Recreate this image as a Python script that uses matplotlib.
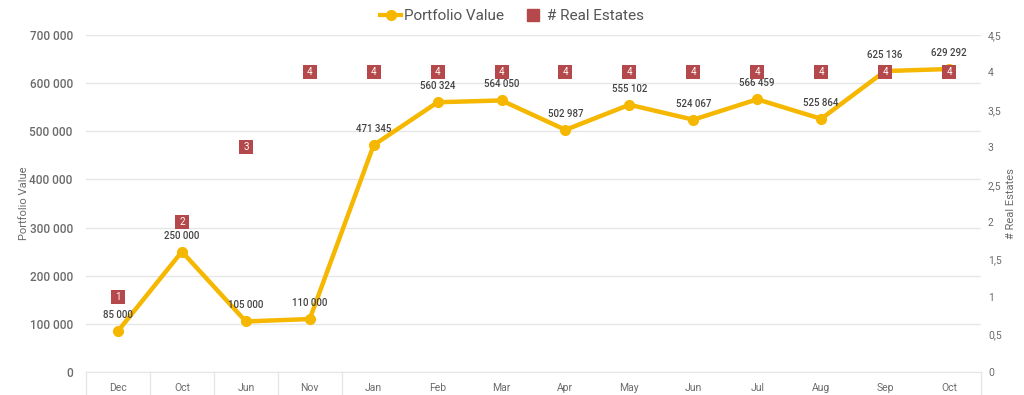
import matplotlib
matplotlib.use("Agg")
import matplotlib.pyplot as plt
from matplotlib.lines import Line2D

months = ["Dec", "Oct", "Jun", "Nov", "Jan", "Feb", "Mar", "Apr", "May", "Jun", "Jul", "Aug", "Sep", "Oct"]
portfolio_value = [85000, 250000, 105000, 110000, 471345, 560324, 564050, 502987,
                   555102, 524067, 566459, 525864, 625136, 629292]
real_estates = [1, 2, 3, 4, 4, 4, 4, 4, 4, 4, 4, 4, 4, 4]
group_bounds = [-0.5, 0.5, 1.5, 2.5, 3.5, 13.5]

plt.rcParams['font.family'] = ['Roboto', 'DejaVu Sans']

LINE = "#F5B700"
RED = "#B5484A"
GRID = "#E6E6E6"
TXT = "#6B6B6B"

fig = plt.figure(figsize=(10.24, 3.95), dpi=100)
ax = fig.add_axes([86/1024, 1-372/395, (981-86)/1024, (372-35)/395])
ax2 = ax.twinx()

x = list(range(len(months)))
ax.plot(x, portfolio_value, color=LINE, lw=3.2, marker='o', ms=7, zorder=3,
        solid_capstyle='round')
for xi, v in zip(x, portfolio_value):
    ax.annotate(f"{v:,}".replace(",", " "), (xi, v), xytext=(0, 8), textcoords='offset points',
                ha='center', va='bottom', fontsize=7, color="#444444", fontweight='medium')

ax.set_xlim(-0.5, 13.5)
ax.set_ylim(0, 700000)
ax.set_yticks(range(0, 700001, 100000))
ax.set_yticklabels([f"{v:,}".replace(",", " ") for v in range(0, 700001, 100000)])
ax.grid(axis='y', color=GRID, lw=1)
ax.set_axisbelow(True)
ax.set_xticks(x)
ax.set_xticklabels(months)
ax.tick_params(axis='x', length=0, pad=8, labelsize=7.5, labelcolor=TXT)
ax.tick_params(axis='y', length=0, pad=9.5, labelsize=8.5, labelcolor=TXT)
for lbl in ax.get_yticklabels():
    lbl.set_fontweight('medium')
for s in ['top', 'right', 'left']:
    ax.spines[s].set_visible(False)
ax.spines['bottom'].set_color(GRID)
ax.set_ylabel("Portfolio Value", fontsize=8, color=TXT, labelpad=0)

# group separators below axis
for b in group_bounds:
    ax.plot([b, b], [0, -0.075], transform=ax.get_xaxis_transform(), color=GRID,
            lw=1, clip_on=False)

ax2.set_ylim(0, 4.5)
ticks2 = [0, 0.5, 1, 1.5, 2, 2.5, 3, 3.5, 4, 4.5]
ax2.set_yticks(ticks2)
ax2.set_yticklabels([(f"{t:g}").replace(".", ",") for t in ticks2])
ax2.tick_params(axis='y', length=0, pad=5, labelsize=7.5, labelcolor=TXT)
for s in ax2.spines.values():
    s.set_visible(False)
ax2.scatter(x, real_estates, marker='s', s=110, color=RED, zorder=5, linewidths=0)
for xi, r in zip(x, real_estates):
    ax2.text(xi, r, str(r), ha='center', va='center', fontsize=7, color='white', zorder=6)
ax2.set_ylabel("# Real Estates", fontsize=8, color=TXT, labelpad=3)
ax2.set_zorder(ax.get_zorder() + 1)
ax2.patch.set_visible(False)

handles = [Line2D([0], [0], color=LINE, lw=3, marker='o', ms=7),
           Line2D([0], [0], color=RED, lw=0, marker='s', ms=8)]
fig.legend(handles, ["Portfolio Value", "# Real Estates"], loc='center',
           bbox_to_anchor=(0.5, 1-16/395), ncol=2, frameon=False, fontsize=11,
           labelcolor="#555555", handlelength=1.4, handletextpad=0.2, columnspacing=1.2)

fig.savefig("out.png", dpi=100)
